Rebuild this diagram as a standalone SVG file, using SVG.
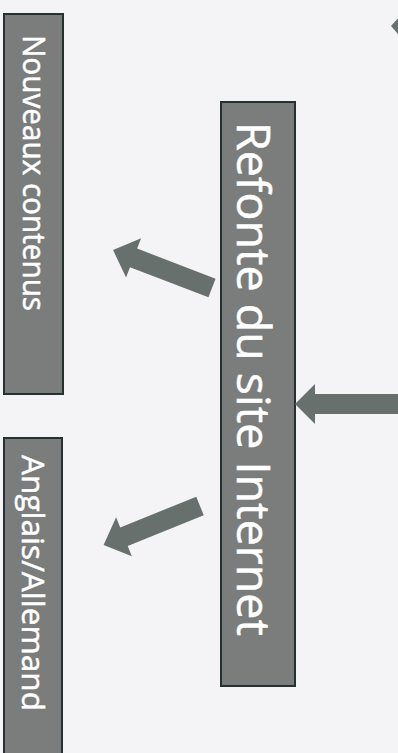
<svg xmlns="http://www.w3.org/2000/svg" width="398" height="753" viewBox="0 0 398 753">
<style>
.box{fill:#7b7d7c;stroke:#273030;stroke-width:2}
.lbl{fill:#ffffff;stroke:#ffffff;stroke-width:0.5;font-family:"Open Sans","Noto Sans",sans-serif}
.arr{fill:#67706d}
</style>
<rect width="398" height="753" fill="#f4f4f6"/>
<g id="node-refonte">
<rect class="box" x="221" y="102" width="74" height="584"/>
<text class="lbl" font-size="45" transform="translate(237,122) rotate(90)" textLength="514" lengthAdjust="spacingAndGlyphs">Refonte du site Internet</text>
</g>
<g id="node-nouveaux">
<rect class="box" x="4" y="14" width="59" height="380"/>
<text class="lbl" font-size="31" transform="translate(23,35) rotate(90)" textLength="276" lengthAdjust="spacingAndGlyphs">Nouveaux contenus</text>
</g>
<g id="node-anglais">
<rect class="box" x="4" y="438" width="58" height="320"/>
<text class="lbl" font-size="31" transform="translate(22,455) rotate(90)" textLength="256" lengthAdjust="spacingAndGlyphs">Anglais/Allemand</text>
</g>
<g id="connectors">
<path class="arr" transform="translate(212,288) rotate(201)" d="M0,-10 L84,-10 L84,-21 L106,0 L84,21 L84,10 L0,10 Z"/>
<path class="arr" transform="translate(200,506) rotate(158)" d="M0,-10 L82,-10 L82,-21 L104,0 L82,21 L82,10 L0,10 Z"/>
<path class="arr" transform="translate(400,404) rotate(180)" d="M0,-10 L85,-10 L85,-20 L105,0 L85,20 L85,10 L0,10 Z"/>
<path class="arr" d="M391,26 L399,17 L399,35 Z"/>
</g>
</svg>
